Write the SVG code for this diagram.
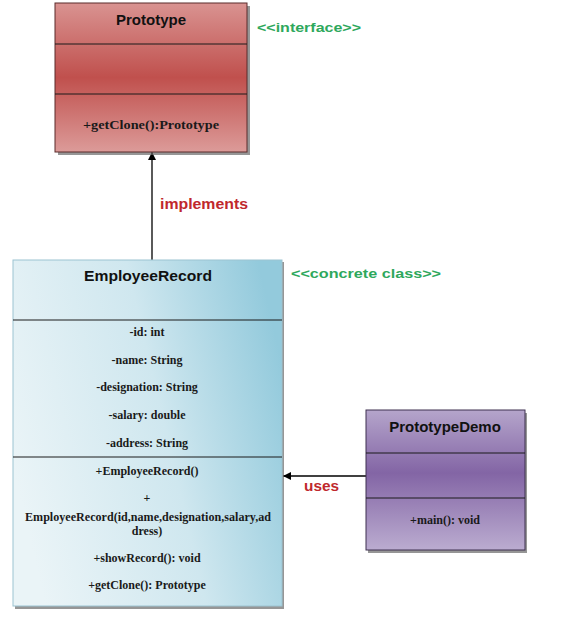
<svg xmlns="http://www.w3.org/2000/svg" width="575" height="623" viewBox="0 0 575 623">
<defs>
<linearGradient id="gRed" x1="0" y1="0" x2="0" y2="1">
<stop offset="0" stop-color="#d99391"/>
<stop offset="0.5" stop-color="#c0504d"/>
<stop offset="1" stop-color="#dc9b99"/>
</linearGradient>
<linearGradient id="gBlue" x1="0" y1="0.6" x2="1" y2="0.3">
<stop offset="0" stop-color="#eaf4f7"/>
<stop offset="0.55" stop-color="#cfe7ef"/>
<stop offset="1" stop-color="#93cadc"/>
</linearGradient>
<linearGradient id="gPurple" x1="0" y1="0" x2="0" y2="1">
<stop offset="0" stop-color="#b5a5cb"/>
<stop offset="0.45" stop-color="#8365a5"/>
<stop offset="1" stop-color="#bbacd0"/>
</linearGradient>
<marker id="arr" viewBox="0 0 10 10" refX="10" refY="5" markerWidth="8" markerHeight="8" markerUnits="userSpaceOnUse" orient="auto">
<path d="M0,0 L10,5 L0,10 z" fill="#000"/>
</marker>
<style>
.title{font-family:"Liberation Sans",Arial,sans-serif;font-weight:bold;font-size:15px;fill:#111;text-anchor:middle}
.mem{font-family:"Liberation Serif","Times New Roman",serif;font-weight:bold;font-size:12px;fill:#1a1a1a;text-anchor:middle}
.stereo{font-family:"Liberation Sans",Arial,sans-serif;font-weight:bold;font-size:13px;fill:#2ea85c}
.lbl{font-family:"Liberation Sans",Arial,sans-serif;font-weight:bold;font-size:15px;fill:#c0282d}
.div{stroke:#1a1a1a;stroke-width:1}
.shadow{fill:#6a6a6a;opacity:0.7}
</style>
</defs>
<rect width="575" height="623" fill="#ffffff"/>

<g id="connectors" stroke="#000" stroke-width="1.3" fill="none">
<line x1="152" y1="260" x2="152" y2="152" marker-end="url(#arr)"/>
<line x1="366" y1="476" x2="283" y2="476" marker-end="url(#arr)"/>
</g>

<g id="Prototype">
<rect class="shadow" x="58" y="6" width="192" height="149"/>
<rect x="55" y="3" width="192" height="149" fill="url(#gRed)" stroke="#5b2b2a" stroke-width="1"/>
<line class="div" x1="55" y1="44" x2="247" y2="44"/>
<line class="div" x1="55" y1="94" x2="247" y2="94"/>
<text class="title" x="151" y="25">Prototype</text>
<text class="mem" x="151" y="129" font-size="15" font-weight="normal" textLength="136" lengthAdjust="spacingAndGlyphs">+getClone():Prototype</text>
</g>

<g id="interface-label">
<text class="stereo" x="257" y="32" textLength="104" lengthAdjust="spacingAndGlyphs">&lt;&lt;interface&gt;&gt;</text>
</g>

<g id="implements-label">
<text class="lbl" x="160" y="209" textLength="88" lengthAdjust="spacingAndGlyphs">implements</text>
</g>

<g id="EmployeeRecord">
<rect class="shadow" x="15" y="262" width="269" height="347" opacity="0.5"/>
<rect x="13" y="260" width="269" height="346" fill="url(#gBlue)" stroke="#9cc4d2" stroke-width="1"/>
<line class="div" x1="13" y1="320" x2="282" y2="320"/>
<line class="div" x1="13" y1="457" x2="282" y2="457"/>
<text class="title" x="148" y="281" textLength="128" lengthAdjust="spacingAndGlyphs">EmployeeRecord</text>
<text class="mem" x="147" y="336">-id: int</text>
<text class="mem" x="147" y="364">-name: String</text>
<text class="mem" x="147" y="391">-designation: String</text>
<text class="mem" x="147" y="419">-salary: double</text>
<text class="mem" x="147" y="447">-address: String</text>
<text class="mem" x="147" y="475">+EmployeeRecord()</text>
<text class="mem" x="147" y="502">+</text>
<text class="mem" x="148" y="521" textLength="246" lengthAdjust="spacingAndGlyphs">EmployeeRecord(id,name,designation,salary,ad</text>
<text class="mem" x="147" y="535">dress)</text>
<text class="mem" x="147" y="562">+showRecord(): void</text>
<text class="mem" x="147" y="589">+getClone(): Prototype</text>
</g>

<g id="concrete-label">
<text class="stereo" x="291" y="278" textLength="150" lengthAdjust="spacingAndGlyphs">&lt;&lt;concrete  class&gt;&gt;</text>
</g>

<g id="PrototypeDemo">
<rect class="shadow" x="368" y="413" width="159" height="140"/>
<rect x="366" y="410" width="159" height="140" fill="url(#gPurple)" stroke="#3f3050" stroke-width="1"/>
<line class="div" x1="366" y1="453" x2="525" y2="453"/>
<line class="div" x1="366" y1="498" x2="525" y2="498"/>
<text class="title" x="445" y="432">PrototypeDemo</text>
<text class="mem" x="445" y="524">+main(): void</text>
</g>

<g id="uses-label">
<text class="lbl" x="304" y="491" textLength="35" lengthAdjust="spacingAndGlyphs">uses</text>
</g>
</svg>
